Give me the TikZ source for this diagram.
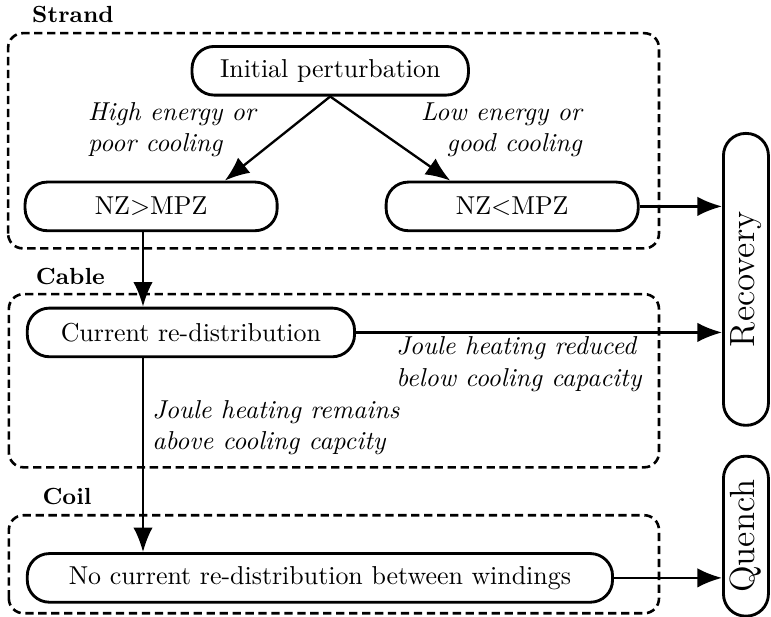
\documentclass[tikz,border=0pt]{standalone}
\usepackage{graphicx}
\usetikzlibrary{calc, positioning, arrows.meta}

\begin{document}
\begin{tikzpicture}[box/.style={draw, line width=1.1pt, rounded corners=3mm, minimum height=6.6mm, inner sep=1mm},
                    outcome/.style={box, minimum width=6.1mm, inner xsep=0.8mm, font=\fontsize{13.5}{16}\selectfont},
                    group/.style={draw, line width=1pt, dash pattern=on 3.2pt off 1.8pt, rounded corners=2mm},
                    tag/.style={font=\small\bfseries, inner sep=0pt, anchor=base west},
                    note/.style={font=\itshape, inner sep=0pt},
                    flow/.style={-{Latex[length=9.5pt, width=7.5pt]}, line width=0.9pt}]

    \useasboundingbox (0mm, 0mm) rectangle (104.6mm, 83.6mm); % same margins as the sketch

    % dashed groups with their titles
    \draw [group] (1.1mm, 49.9mm) rectangle (89.4mm, 79.1mm);
    \draw [group] (1.2mm, 20.2mm) rectangle (89.4mm, 43.7mm);
    \draw [group] (1.2mm, 0.4mm)  rectangle (89.4mm, 13.7mm);
    \node (strand) [tag] at (4.3mm, 80.5mm) {Strand};
    \node (cable)  [tag] at (4.8mm, 45.0mm) {Cable};
    \node (coil)   [tag] at (5.7mm, 15.1mm) {Coil};

    % states
    \node (init)  [box, minimum width=37.5mm] at (44.8mm, 74.0mm) {Initial perturbation};
    \node (nzgt)  [box, minimum width=34.2mm] at (20.5mm, 55.6mm) {NZ$>$MPZ};
    \node (nzlt)  [box, minimum width=34.2mm, right=14.4mm of nzgt] {NZ$<$MPZ};
    \node (curr)  [box, minimum width=44.4mm] at (25.9mm, 38.5mm) {Current re-distribution};
    \node (nocur) [box, minimum width=79.4mm] at (43.4mm, 5.2mm) {No current re-distribution between windings};

    % outcomes, text turned upright
    \node (recov)  [outcome, minimum height=39.6mm] at (101.2mm, 45.7mm) {\rotatebox{90}{Recovery}};
    \node (quench) [outcome, minimum height=21.7mm, below=3.8mm of recov] {\rotatebox{90}{Quench}};

    % arrows, one trunk down the left side
    \coordinate (trunk) at ([xshift=-1.1mm]nzgt.south);
    \draw [flow] (init.south) -- ([xshift=10mm]nzgt.north);
    \draw [flow] (init.south) -- ([xshift=-8.4mm]nzlt.north);
    \draw [flow] (nzlt.east) -- (nzlt.east -| recov.west);
    \draw [flow] (trunk) -- (trunk |- curr.north);
    \draw [flow] (curr.east) -- (curr.east -| recov.west);
    \draw [flow] (trunk |- curr.south) -- (trunk |- nocur.north);
    \draw [flow] (nocur.east) -- (nocur.east -| quench.west);

    % conditions along the arrows
    \node (high)    [note, anchor=west, align=left]  at (11.9mm, 66.0mm) {High energy or\\poor cooling};
    \node (low)     [note, anchor=east, align=right] at (79.0mm, 66.0mm) {Low energy or\\good cooling};
    \node (reduced) [note, anchor=west, align=left]  at (53.7mm, 34.2mm) {Joule heating reduced\\below cooling capacity};
    \node (remains) [note, anchor=west, align=left]  at (20.6mm, 25.6mm) {Joule heating remains\\above cooling capcity};

\end{tikzpicture}
\end{document}
